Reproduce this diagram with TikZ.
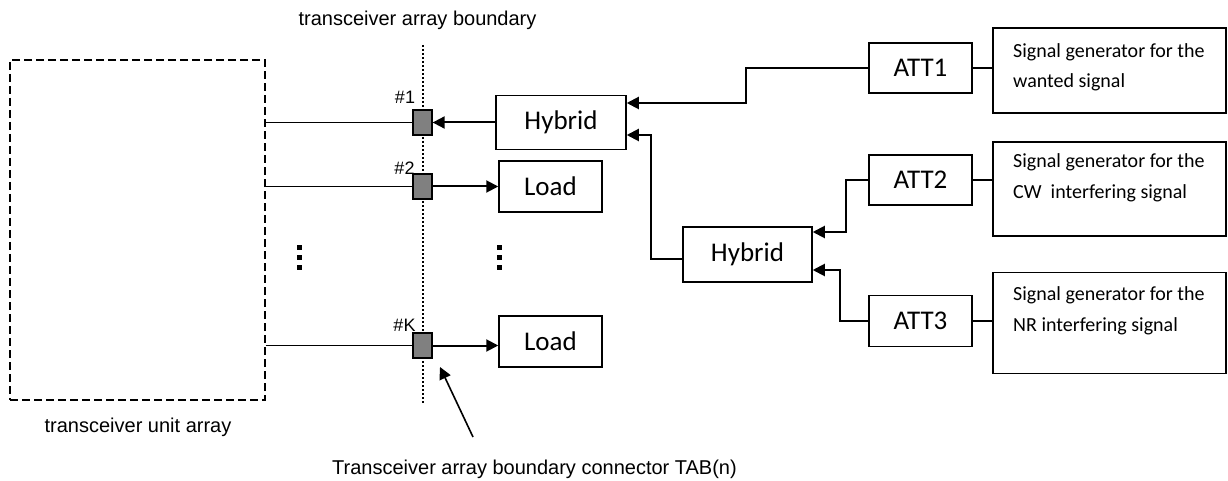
\documentclass[tikz,border=0pt]{standalone}
\usepackage{fontspec}
\setmainfont{Liberation Sans}
\newfontfamily\boxfont{Carlito}
\usetikzlibrary{positioning,calc,arrows.meta}
\definecolor{ink}{HTML}{000000}
\definecolor{tabgray}{HTML}{808080}

\begin{document}
\begin{tikzpicture}[
      x=1pt,y=-1pt,
      box/.style={draw=ink,rectangle,line width=1.5pt,inner sep=0pt,font=\boxfont\fontsize{27}{32}\selectfont},
      genbox/.style={draw=ink,rectangle,line width=1.5pt,inner sep=0pt,minimum width=233pt},
      gentext/.style={anchor=west,inner sep=0pt,align=left,font=\boxfont\fontsize{20}{30.5}\selectfont},
      tab/.style={draw=ink,fill=tabgray,line width=1.3pt,minimum width=19pt,minimum height=25pt,inner sep=0pt},
      lbl/.style={inner sep=0pt,font=\fontsize{20}{24}\selectfont},
      port/.style={inner sep=0pt,font=\fontsize{18}{22}\selectfont},
      wire/.style={ink,line width=1.3pt},
      arr/.style={-{Triangle[length=12pt,width=12pt]},ink,line width=2pt}]
      \useasboundingbox (0,0) rectangle (1228,481);
      % transceiver side
      \node[draw=ink,dash pattern=on 8pt off 4pt,line width=1.3pt,minimum width=255pt,minimum height=340pt] (tua) at (137.5,230) {};
      \node[lbl] (tualbl) at (138,427) {transceiver unit array};
      \coordinate (bndtop) at (423,45);
      \coordinate (bndbot) at (423,403);
      \draw[ink,line width=1.8pt,dash pattern=on 2pt off 2pt] (bndtop) -- (bndbot);
      \node[lbl] (bndlbl) at (417.5,20) {transceiver array boundary};
      \node[tab] (sq1) at (422.5,122.5) {};
      \node[tab] (sq2) at (422.5,186.5) {};
      \node[tab] (sqK) at (422.5,345.5) {};
      \node[port] (p1) at (405,97) {\#1};
      \node[port] (p2) at (404.5,168) {\#2};
      \node[port] (pK) at (404.5,325) {\#K};
      \foreach \y in {245,255,265} {
        \fill[ink] (297,\y) rectangle +(4.5,4.5);
        \fill[ink] (497,\y) rectangle +(4.5,4.5);
      }
      % test equipment
      \node[box,minimum width=130pt,minimum height=54pt] (hyb1) at (561,122.5) {Hybrid};
      \node[box,minimum width=103pt,minimum height=51pt] (load1) at (550.5,186.5) {Load};
      \node[box,minimum width=103pt,minimum height=51pt] (loadK) at (550.5,341.5) {Load};
      \node[box,minimum width=129pt,minimum height=55pt] (hyb2) at (747.5,254.5) {Hybrid};
      \node[box,minimum width=103pt,minimum height=50pt] (att1) at (920.5,68) {ATT1};
      \node[box,minimum width=103pt,minimum height=50pt] (att2) at (920.5,180) {ATT2};
      \node[box,minimum width=103pt,minimum height=51pt] (att3) at (920.5,321) {ATT3};
      \node[genbox,minimum height=85pt] (gen1) at (1109.5,70.5) {};
      \node[genbox,minimum height=94pt] (gen2) at (1109.5,189) {};
      \node[genbox,minimum height=101pt] (gen3) at (1109.5,323) {};
      \node[gentext] (gen1txt) at (1013,67.5) {Signal generator for the\\wanted signal};
      \node[gentext] (gen2txt) at (1013,178) {Signal generator for the\\CW\ \ interfering signal};
      \node[gentext] (gen3txt) at (1013,311) {Signal generator for the\\NR interfering signal};
      \node[lbl,anchor=west] (tablbl) at (332,469) {Transceiver array boundary connector TAB(n)};
      \coordinate (tabtail) at (473,437);
      \coordinate (tabhead) at (440,367);
      % connections
      \draw[wire] (tua.east |- sq1) -- (sq1.west);
      \draw[wire] (tua.east |- sq2) -- (sq2.west);
      \draw[wire] (tua.east |- sqK) -- (sqK.west);
      \draw[arr] (hyb1.west) -- (sq1.east);
      \draw[arr] (sq2.east) -- (load1.west);
      \draw[arr] (sqK.east) -- (sqK.east -| loadK.west);
      \draw[arr] (att1.west) -- ++(-122,0) |- ($(hyb1.east)+(0,-19.5)$);
      \draw[arr] ($(hyb2.west)+(0,4.5)$) -- ++(-31,0) |- ($(hyb1.east)+(0,12.5)$);
      \draw[arr] (att2.west) -- ++(-22,0) |- ($(hyb2.east)+(0,-22.5)$);
      \draw[arr] (att3.west) -- ++(-28,0) |- ($(hyb2.east)+(0,15.5)$);
      \draw[wire] (att1.east) -- (att1.east -| gen1.west);
      \draw[wire] (att2.east) -- (att2.east -| gen2.west);
      \draw[wire] (att3.east) -- (att3.east -| gen3.west);
      \draw[arr,line width=1.6pt] (tabtail) -- (tabhead);
    \end{tikzpicture}
\end{document}
